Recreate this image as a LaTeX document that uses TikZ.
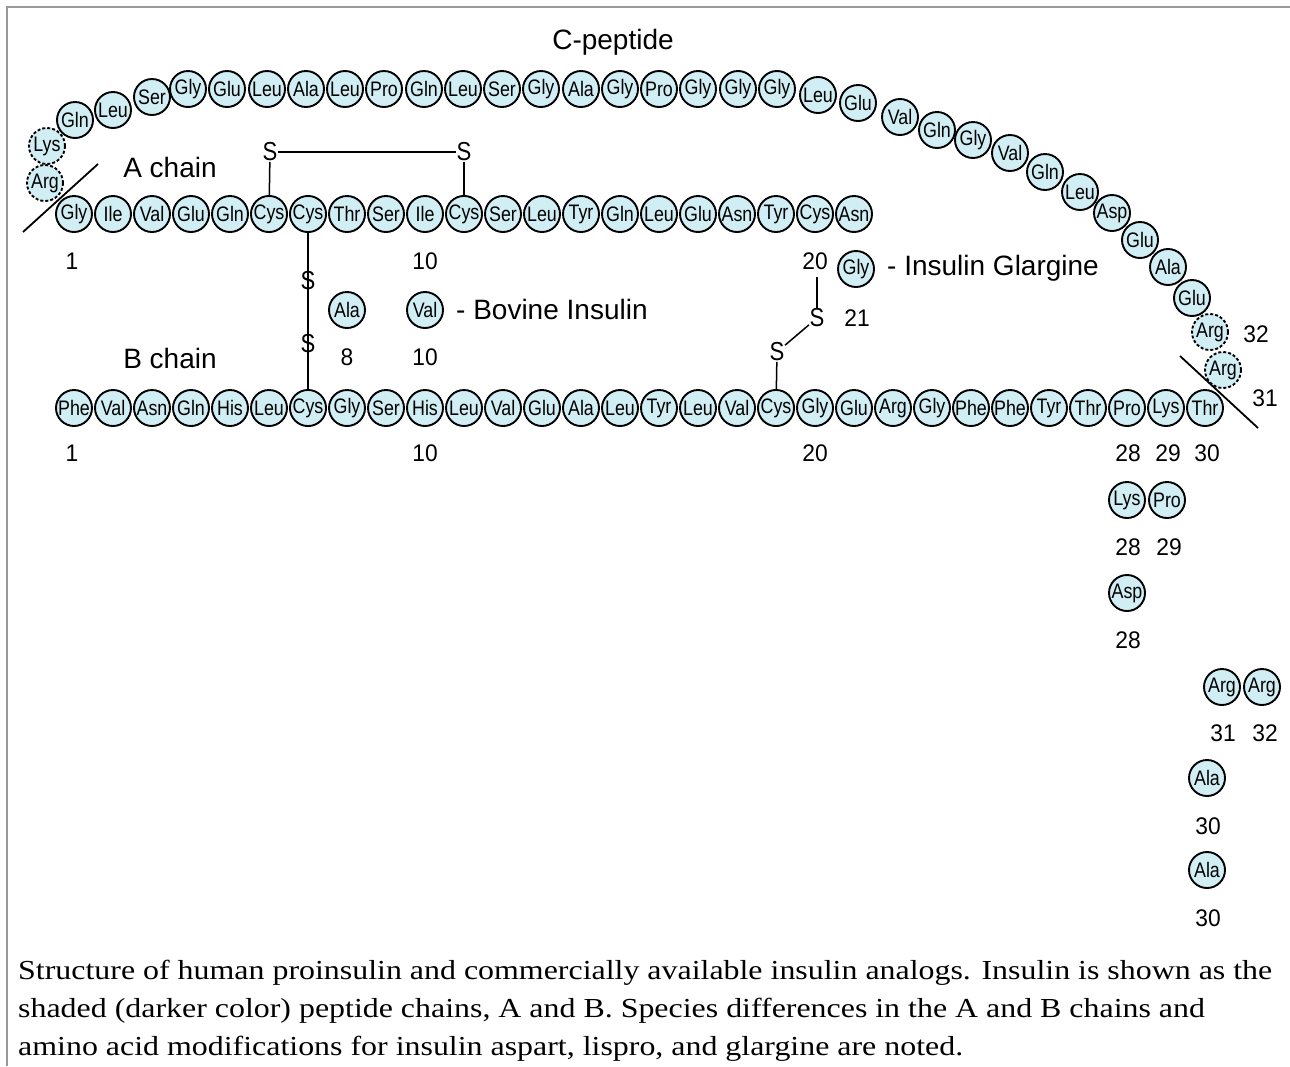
\documentclass[tikz,border=0pt]{standalone}
\usepackage{fontspec}
\usepackage{graphicx}
\setmainfont{Liberation Sans}
\newfontfamily\aafont[FakeStretch=0.85]{Liberation Sans}
\newfontfamily\numfont[FakeStretch=0.95]{Liberation Sans}
\newfontfamily\capfont{Liberation Serif}
\definecolor{aafill}{HTML}{D0EEF4}
\definecolor{framegray}{HTML}{999999}
\newlength\capw
\tikzset{
 aa/.style={circle, draw=black, line width=1.9pt, fill=aafill, minimum size=36pt, inner sep=0pt, font=\aafont\fontsize{21}{21}\selectfont},
 aad/.style={aa, dash pattern=on 3pt off 2pt},
 num/.style={font=\numfont\fontsize{24}{24}\selectfont, inner sep=0pt},
 lbl/.style={font=\fontsize{28}{28}\selectfont, inner sep=0pt},
 ssym/.style={font=\aafont\fontsize{26}{26}\selectfont, inner sep=0.5pt},
 bond/.style={line width=1.5pt},
 cutline/.style={line width=1.8pt},
 framel/.style={draw=framegray, line width=2pt},
 captxt/.style={anchor=base west, inner sep=0pt}
}
\begin{document}
\settowidth\capw{\capfont\fontsize{27.5}{27.5}\selectfont Structure of human proinsulin and commercially available insulin analogs. Insulin is shown as the}%
\pgfmathsetmacro\capscale{1254/\capw}%
\begin{tikzpicture}[x=1pt,y=-1pt]
\useasboundingbox (0,0) rectangle (1290,1066);
% frame
\draw[framel] (7,1066) -- (7,7) -- (1290,7);
% A chain
\foreach \r [count=\i] in {Gly,Ile,Val,Glu,Gln,Cys,Cys,Thr,Ser,Ile,Cys,Ser,Leu,Tyr,Gln,Leu,Glu,Asn,Tyr,Cys,Asn}
  \node[aa] (a\i) at ({74+39*(\i-1)},214) {\r};
% B chain
\foreach \r [count=\i] in {Phe,Val,Asn,Gln,His,Leu,Cys,Gly,Ser,His,Leu,Val,Glu,Ala,Leu,Tyr,Leu,Val,Cys,Gly,Glu,Arg,Gly,Phe,Phe,Tyr,Thr,Pro,Lys,Thr}
  \node[aa] (b\i) at ({74+39*(\i-1)},408) {\r};
% C-peptide
\node[aad] (c31) at (1223,370) {Arg};
\node[aad] (c32) at (1210,332) {Arg};
\foreach \n/\x/\y/\r in {1/1192/298/Glu,2/1168/267/Ala,3/1140/240/Glu,4/1112/213/Asp,5/1080/192/Leu,6/1045/172/Gln,7/1010/153/Val,8/973/140/Gly,9/937/130/Gln,10/900/117/Val,11/858/103/Glu,12/818/95/Leu,13/777/89/Gly,14/738/89/Gly,15/698/89/Gly,16/659/89/Pro,17/620/89/Gly,18/581/89/Ala,19/541/89/Gly,20/502/89/Ser,21/463/89/Leu,22/424/89/Gln,23/384/89/Pro,24/345/89/Leu,25/306/89/Ala,26/267/89/Leu,27/227/89/Glu,28/188/89/Gly,29/152/97/Ser,30/113/110/Leu,31/75/120/Gln}
  \node[aa] (p\n) at (\x,\y) {\r};
\node[aad] (cLys) at (47,146) {Lys};
\node[aad] (cArg) at (45,183) {Arg};
% cut lines
\coordinate (cutA1) at (23,232);
\coordinate (cutA2) at (98,164);
\coordinate (cutB1) at (1180,356);
\coordinate (cutB2) at (1258,428);
\draw[cutline] (cutA1) -- (cutA2);
\draw[cutline] (cutB1) -- (cutB2);
% disulfide bonds
\node[ssym] (s1) at (270,152) {S};
\node[ssym] (s2) at (464,152) {S};
\draw[bond] (a6) -- (s1);
\draw[bond] (s1) -- (s2);
\draw[bond] (s2) -- (a11);
\draw[bond] (a7) -- (b7);
\node[ssym] (s3) at (308,281) {S};
\node[ssym] (s4) at (308,344) {S};
\node[ssym] (s5) at (777,352) {S};
\node[ssym] (s6) at (817,318) {S};
\coordinate (g21) at (817,277);
\draw[bond] (b19) -- (s5);
\draw[bond] (s5) -- (s6);
\draw[bond] (s6) -- (g21);
% labels
\node[lbl] (lc) at (613,42) {C-peptide};
\node[lbl] (la) at (170,167) {A chain};
\node[lbl] (lb) at (170,358) {B chain};
% bovine
\node[aa] (bovA) at (347,310) {Ala};
\node[aa] (bovV) at (425,310) {Val};
\node[lbl, anchor=west] (lbov) at (456,309) {- Bovine Insulin};
\node[num] (n8) at (347,357) {8};
\node[num] (n10b) at (425,357) {10};
% glargine
\node[aa] (glar) at (856,269) {Gly};
\node[lbl, anchor=west] (lglar) at (887,268) {- Insulin Glargine};
\node[num] (n21) at (857,318) {21};
% A numbers
\node[num] (na1) at (72,261) {1};
\node[num] (na10) at (425,261) {10};
\node[num] (na20) at (815,261) {20};
% B numbers
\node[num] (nb1) at (72,453) {1};
\node[num] (nb10) at (425,453) {10};
\node[num] (nb20) at (815,453) {20};
\node[num] (nb28) at (1128,453) {28};
\node[num] (nb29) at (1168,453) {29};
\node[num] (nb30) at (1207,453) {30};
\node[num] (nc32) at (1256,334) {32};
\node[num] (nc31) at (1265,398) {31};
% analogs
\node[aa] (lisK) at (1127,500) {Lys};
\node[aa] (lisP) at (1167,500) {Pro};
\node[num] (nl28) at (1128,547) {28};
\node[num] (nl29) at (1169,547) {29};
\node[aa] (aspD) at (1127,593) {Asp};
\node[num] (nd28) at (1128,640) {28};
\node[aa] (glR1) at (1222,687) {Arg};
\node[aa] (glR2) at (1262,687) {Arg};
\node[num] (ng31) at (1223,733) {31};
\node[num] (ng32) at (1265,733) {32};
\node[aa] (alaA) at (1207,778) {Ala};
\node[num] (nala1) at (1208,826) {30};
\node[aa] (alaB) at (1207,870) {Ala};
\node[num] (nala2) at (1208,918) {30};
% caption
\node[captxt] (cap1) at (18,979) {\scalebox{\capscale}[1]{\capfont\fontsize{27.5}{27.5}\selectfont Structure of human proinsulin and commercially available insulin analogs. Insulin is shown as the}};
\node[captxt] (cap2) at (18,1017) {\scalebox{\capscale}[1]{\capfont\fontsize{27.5}{27.5}\selectfont shaded (darker color) peptide chains, A and B. Species differences in the A and B chains and}};
\node[captxt] (cap3) at (18,1055) {\scalebox{\capscale}[1]{\capfont\fontsize{27.5}{27.5}\selectfont amino acid modifications for insulin aspart, lispro, and glargine are noted.}};
\end{tikzpicture}
\end{document}
